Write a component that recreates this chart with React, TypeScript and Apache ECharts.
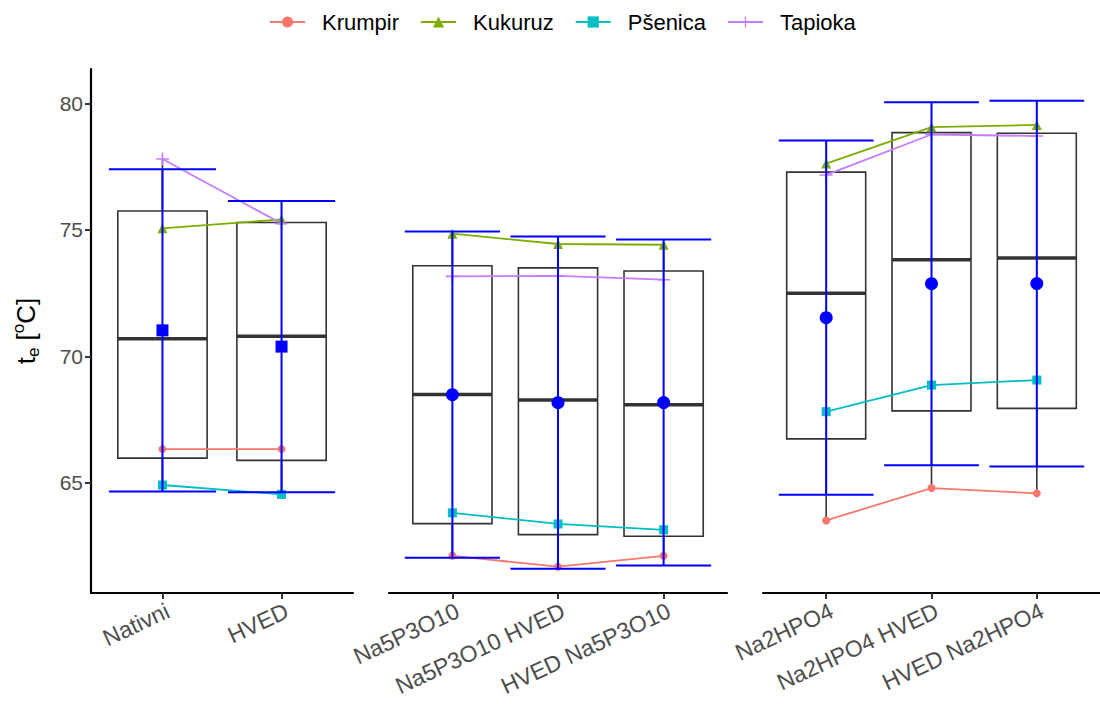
import React, { useEffect, useRef } from "react";
import * as echarts from "echarts";

// ---- data ----
const panelCategories: string[][] = [
  ["Nativni", "HVED"],
  ["Na5P3O10", "Na5P3O10 HVED", "HVED Na5P3O10"],
  ["Na2HPO4", "Na2HPO4 HVED", "HVED Na2HPO4"],
];

const seriesNames = ["Krumpir", "Kukuruz", "Pšenica", "Tapioka"];
const krumpir = [66.33, 66.33, 62.11, 61.68, 62.11, 63.51, 64.79, 64.58];
const kukuruz = [75.06, 75.41, 74.85, 74.44, 74.41, 77.62, 79.06, 79.15];
const psenica = [64.91, 64.54, 63.81, 63.37, 63.14, 67.81, 68.86, 69.06];
const tapioka = [77.8, 75.25, 73.16, 73.18, 73.03, 77.17, 78.77, 78.71];
const seriesValues = [krumpir, kukuruz, psenica, tapioka];

const yTicks = [65, 70, 75, 80];

// ---- styling ----
const seriesColors = ["#F8766D", "#7CAE00", "#00BFC4", "#C77CFF"];
const plusPath = "path://M4.4,0H5.6V4.4H10V5.6H5.6V10H4.4V5.6H0V4.4H4.4Z";
const seriesSymbols = ["circle", "triangle", "rect", plusPath];
const seriesSymbolSizes = [8, 10, 9, 13];
const meanSymbols = ["rect", "circle", "circle"];
const meanSymbolSizes = [12, 13, 13];

const grids = [
  { left: 91, width: 262 },
  { left: 389, width: 338 },
  { left: 763, width: 338 },
];
const gridTop = 69;
const gridHeight = 524;
const yMin = 60.64;
const yMax = 81.36;

function quantile(sorted: number[], p: number) {
  const h = (sorted.length - 1) * p;
  const lo = Math.floor(h);
  const hi = Math.ceil(h);
  return sorted[lo] + (h - lo) * (sorted[hi] - sorted[lo]);
}

export default function App() {
  const ref = useRef<HTMLDivElement>(null);

  useEffect(() => {
    if (!ref.current) return;
    const chart = echarts.init(ref.current, null, { renderer: "svg" });

    const labelFont = "Liberation Sans, Arial, sans-serif";
    let offset = 0;
    const series: any[] = [];
    const xAxes: any[] = [];
    const yAxes: any[] = [];
    const gridOpts: any[] = [];

    panelCategories.forEach((cats, p) => {
      const n = cats.length;
      const xs = cats.map((_, i) => i + 1);
      gridOpts.push({ left: grids[p].left, width: grids[p].width, top: gridTop, height: gridHeight, containLabel: false });
      xAxes.push({
        type: "value",
        gridIndex: p,
        min: 0.4,
        max: n + 0.6,
        splitLine: { show: false },
        axisLine: { show: true, onZero: false, lineStyle: { color: "#000", width: 2.2 } },
        axisTick: { show: true, customValues: xs, length: 6, lineStyle: { color: "#333", width: 2 } },
        axisLabel: {
          customValues: xs,
          rotate: 25,
          margin: 19,
          padding: [0, -6, 0, 0],
          fontSize: 23,
          fontFamily: labelFont,
          color: "#4D4D4D",
          formatter: (v: number) => cats[Math.round(v) - 1] ?? "",
        },
      });
      yAxes.push({
        type: "value",
        gridIndex: p,
        min: yMin,
        max: yMax,
        show: p === 0,
        splitLine: { show: false },
        axisLine: { show: p === 0, lineStyle: { color: "#000", width: 2.2 } },
        axisTick: { show: p === 0, customValues: yTicks, length: 6, lineStyle: { color: "#333", width: 2 } },
        axisLabel: {
          show: p === 0,
          customValues: yTicks,
          fontSize: 21,
          fontFamily: labelFont,
          color: "#4D4D4D",
          margin: 8,
        },
        name: p === 0 ? "{t|t}{sub|e}{t| [}{sup|o}{t|C]}" : "",
        nameLocation: "middle",
        nameGap: 49,
        nameRotate: 90,
        nameTextStyle: {
          fontFamily: labelFont,
          color: "#000",
          rich: {
            t: { fontSize: 26, lineHeight: 32, fontFamily: labelFont, color: "#000" },
            sub: { fontSize: 17, lineHeight: 14, verticalAlign: "bottom", fontFamily: labelFont, color: "#000" },
            sup: { fontSize: 17, lineHeight: 14, verticalAlign: "top", fontFamily: labelFont, color: "#000" },
          },
        },
      });

      // stats per category
      const boxData: number[][] = [];
      const errData: number[][] = [];
      const meanData: number[][] = [];
      cats.forEach((_, i) => {
        const vals = seriesValues.map((s) => s[offset + i]);
        const sorted = [...vals].sort((a, b) => a - b);
        const mean = vals.reduce((a, b) => a + b, 0) / vals.length;
        const sd = Math.sqrt(vals.reduce((a, b) => a + (b - mean) ** 2, 0) / (vals.length - 1));
        boxData.push([i + 1, sorted[0], quantile(sorted, 0.25), quantile(sorted, 0.5), quantile(sorted, 0.75), sorted[sorted.length - 1]]);
        errData.push([i + 1, mean - sd, mean + sd]);
        meanData.push([i + 1, mean]);
      });

      series.push({
        type: "custom",
        name: "box" + p,
        xAxisIndex: p,
        yAxisIndex: p,
        z: 1,
        encode: { x: 0, y: [1, 2, 3, 4, 5] },
        data: boxData,
        renderItem: (params: any, api: any) => {
          const x = api.value(0);
          const lo = api.value(1), q1 = api.value(2), med = api.value(3), q3 = api.value(4), hi = api.value(5);
          const [xl, yq3] = api.coord([x - 0.375, q3]);
          const [xr, yq1] = api.coord([x + 0.375, q1]);
          const [xc, ym] = api.coord([x, med]);
          const yhi = api.coord([x, hi])[1];
          const ylo = api.coord([x, lo])[1];
          const st = { stroke: "#333333", lineWidth: 1.6 };
          return {
            type: "group",
            children: [
              { type: "line", shape: { x1: xc, y1: yq3, x2: xc, y2: yhi }, style: st },
              { type: "line", shape: { x1: xc, y1: yq1, x2: xc, y2: ylo }, style: st },
              { type: "rect", shape: { x: xl, y: yq3, width: xr - xl, height: yq1 - yq3 }, style: { fill: "#fff", stroke: "#333333", lineWidth: 1.6 } },
              { type: "line", shape: { x1: xl, y1: ym, x2: xr, y2: ym }, style: { stroke: "#333333", lineWidth: 3.5 } },
            ],
          };
        },
      });

      seriesNames.forEach((name, s) => {
        series.push({
          type: "line",
          name,
          xAxisIndex: p,
          yAxisIndex: p,
          z: 2,
          symbol: seriesSymbols[s],
          symbolSize: seriesSymbolSizes[s],
          showSymbol: true,
          lineStyle: { color: seriesColors[s], width: 1.8 },
          itemStyle: { color: seriesColors[s] },
          data: cats.map((_, i) => [i + 1, seriesValues[s][offset + i]]),
        });
      });

      series.push({
        type: "custom",
        name: "err" + p,
        xAxisIndex: p,
        yAxisIndex: p,
        z: 3,
        encode: { x: 0, y: [1, 2] },
        data: errData,
        renderItem: (params: any, api: any) => {
          const x = api.value(0);
          const lo = api.value(1), hi = api.value(2);
          const [xl, ylo] = api.coord([x - 0.45, lo]);
          const [xr, yhi] = api.coord([x + 0.45, hi]);
          const xc = api.coord([x, lo])[0];
          const st = { stroke: "#0000FF", lineWidth: 2 };
          return {
            type: "group",
            children: [
              { type: "line", shape: { x1: xc, y1: ylo, x2: xc, y2: yhi }, style: st },
              { type: "line", shape: { x1: xl, y1: ylo, x2: xr, y2: ylo }, style: st },
              { type: "line", shape: { x1: xl, y1: yhi, x2: xr, y2: yhi }, style: st },
            ],
          };
        },
      });

      series.push({
        type: "scatter",
        name: "mean" + p,
        xAxisIndex: p,
        yAxisIndex: p,
        z: 4,
        symbol: meanSymbols[p],
        symbolSize: meanSymbolSizes[p],
        itemStyle: { color: "#0000FF", opacity: 1 },
        data: meanData,
      });

      offset += n;
    });

    chart.setOption({
      animation: false,
      backgroundColor: "#fff",
      legend: {
        data: seriesNames,
        top: 6,
        left: 264,
        itemWidth: 35,
        itemHeight: 14,
        itemGap: 21,
        textStyle: { fontSize: 22, fontFamily: labelFont, color: "#000", padding: [0, 0, 0, 12] },
      },
      grid: gridOpts,
      xAxis: xAxes,
      yAxis: yAxes,
      series,
    });

    return () => chart.dispose();
  }, []);

  return <div ref={ref} style={{ position: "fixed", left: 0, top: 0, width: 1100, height: 704 }} />;
}
